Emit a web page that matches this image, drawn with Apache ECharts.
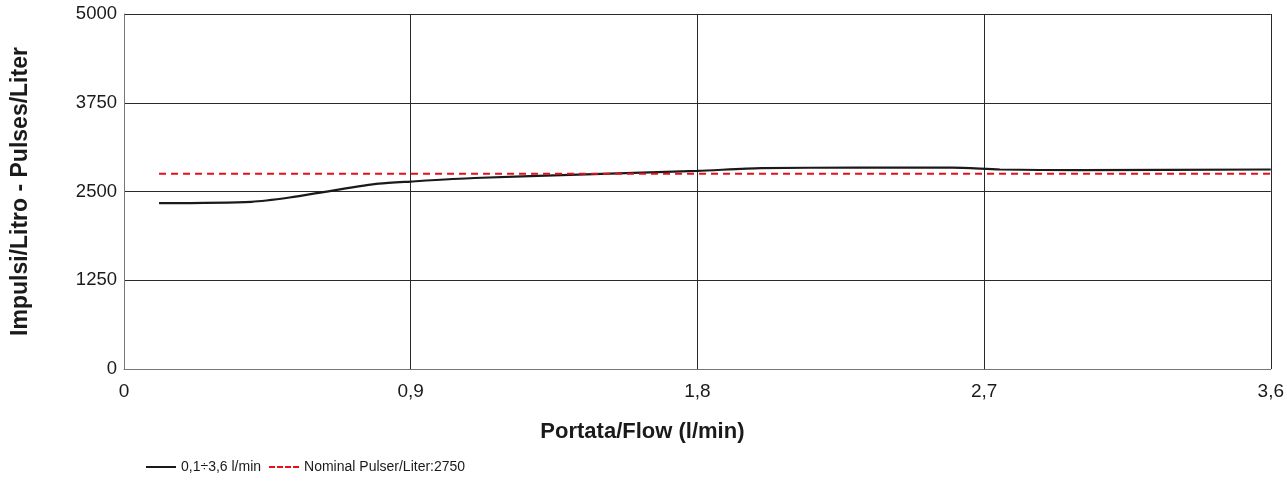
<!DOCTYPE html>
<html>
<head>
<meta charset="utf-8">
<script src="https://cdn.jsdelivr.net/npm/echarts@6/dist/echarts.min.js"></script>
<style>
  html, body { margin: 0; padding: 0; background: #fff; }
  #chart { width: 1287px; height: 484px; }
</style>
</head>
<body>
<div id="chart"></div>
<script>
// Flow (l/min) and measured pulses per liter
const flow = [0.11, 0.40, 0.52, 0.65, 0.80, 0.90, 1.10, 1.40, 1.80, 2.00, 2.30, 2.60, 2.75, 3.00, 3.60];
const pulses = [2335, 2355, 2415, 2510, 2610, 2640, 2690, 2735, 2790, 2830, 2835, 2835, 2810, 2800, 2810];

// Nominal reference value across the flow range
const nominalFlow = [0.11, 3.6];
const nominalValue = 2750;

const seriesNames = ['0,1÷3,6 l/min', 'Nominal Pulser/Liter:2750'];
const xTitle = 'Portata/Flow (l/min)';
const yTitle = 'Impulsi/Litro - Pulses/Liter';

const font = 'Arial, "Liberation Sans", sans-serif';

// Legend icons: a solid bar and a four-dash bar
const solidIcon = 'path://M0,0 L30,0 L30,2 L0,2 Z';
const dashIcon = 'path://M0,0 L6,0 L6,2 L0,2 Z M8,0 L14,0 L14,2 L8,2 Z M16,0 L22,0 L22,2 L16,2 Z M24,0 L30,0 L30,2 L24,2 Z';

const chart = echarts.init(document.getElementById('chart'), null, { renderer: 'canvas' });

chart.setOption({
  animation: false,
  backgroundColor: '#ffffff',
  grid: { left: 124, right: 14, top: 14, bottom: 115, containLabel: false },
  xAxis: {
    type: 'value',
    min: 0, max: 3.6, interval: 0.9,
    name: xTitle,
    nameLocation: 'middle',
    nameGap: 52,
    nameTextStyle: {
      fontFamily: font, fontSize: 22, fontWeight: 'bold', color: '#1a1a1a',
      padding: [0, 110, 0, 0]
    },
    axisLine: { show: true, lineStyle: { color: '#777', width: 1 } },
    axisTick: { show: false },
    axisLabel: {
      fontFamily: font, fontSize: 19, color: '#1a1a1a', margin: 13,
      formatter: v => (Math.abs(v) < 1e-9 ? '0' : v.toFixed(1).replace('.', ','))
    },
    splitLine: { show: true, lineStyle: { color: '#2a2a2a', width: 1 } }
  },
  yAxis: {
    type: 'value',
    min: 0, max: 5000, interval: 1250,
    name: yTitle,
    nameLocation: 'middle',
    nameGap: 92,
    nameRotate: 90,
    nameTextStyle: { fontFamily: font, fontSize: 23, fontWeight: 'bold', color: '#1a1a1a' },
    axisLine: { show: true, lineStyle: { color: '#777', width: 1 } },
    axisTick: { show: false },
    axisLabel: {
      fontFamily: font, fontSize: 18.5, color: '#1a1a1a', margin: 7,
      formatter: v => String(v)
    },
    splitLine: { show: true, lineStyle: { color: '#2a2a2a', width: 1 } }
  },
  legend: {
    left: 141, bottom: 5,
    itemWidth: 30, itemHeight: 10, itemGap: 8,
    textStyle: { fontFamily: font, fontSize: 14, color: '#1a1a1a' },
    data: [
      { name: seriesNames[0], icon: solidIcon },
      { name: seriesNames[1], icon: dashIcon }
    ]
  },
  series: [
    {
      name: seriesNames[0],
      type: 'line',
      data: flow.map((f, i) => [f, pulses[i]]),
      symbol: 'none',
      smooth: 0.25,
      lineStyle: { color: '#1a1a1a', width: 2.2 },
      itemStyle: { color: '#1a1a1a' },
      z: 3
    },
    {
      name: seriesNames[1],
      type: 'line',
      data: nominalFlow.map(f => [f, nominalValue]),
      symbol: 'none',
      lineStyle: { color: '#e3101c', width: 2, type: [7, 5] },
      itemStyle: { color: '#e3101c' },
      z: 4
    }
  ]
});
</script>
</body>
</html>
